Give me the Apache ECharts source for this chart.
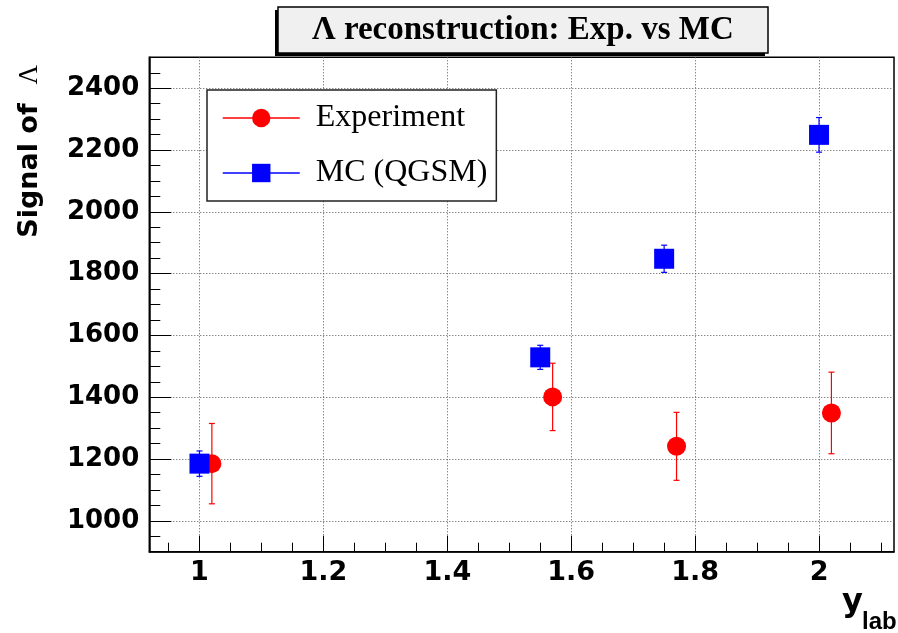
<!DOCTYPE html>
<html>
<head>
<meta charset="utf-8">
<script src="https://cdn.jsdelivr.net/npm/echarts@6/dist/echarts.min.js"></script>
<style>
html,body{margin:0;padding:0;background:#fff;}
#chart{width:898px;height:633px;}
</style>
</head>
<body>
<div id="chart"></div>
<script>
// ---- data ----
const expX = [1.02, 1.57, 1.77, 2.02];
const expY = [1185, 1401, 1241, 1349];
const expErr = [130, 109, 110, 132];

const mcX = [1.0, 1.55, 1.75, 2.0];
const mcY = [1185, 1529, 1848, 2249];
const mcErr = [41, 39, 44, 56];

const xMajorTicks = [1, 1.2, 1.4, 1.6, 1.8, 2];
const xMinorTicks = [0.95, 1.05, 1.1, 1.15, 1.25, 1.3, 1.35, 1.45, 1.5, 1.55, 1.65, 1.7, 1.75, 1.85, 1.9, 1.95, 2.05, 2.1];
const yMajorTicks = [1000, 1200, 1400, 1600, 1800, 2000, 2200, 2400];
const yMinorTicks = [950, 1050, 1100, 1150, 1250, 1300, 1350, 1450, 1500, 1550, 1650, 1700, 1750, 1850, 1900, 1950, 2050, 2100, 2150, 2250, 2300, 2350, 2450];

const titleText = 'Λ reconstruction: Exp. vs MC';
const seriesNames = ['Experiment', 'MC (QGSM)'];

// ---- build ----
function pts(xs, ys) { return xs.map((x, i) => [x, ys[i]]); }
function errs(xs, ys, es) { return xs.map((x, i) => [x, ys[i] - es[i], ys[i] + es[i]]); }

function errRender(color) {
  return function (params, api) {
    const x = api.value(0);
    const lo = api.coord([x, api.value(1)]);
    const hi = api.coord([x, api.value(2)]);
    const cw = 3;
    const st = { stroke: color, lineWidth: 1.2 };
    return {
      type: 'group',
      children: [
        { type: 'line', shape: { x1: lo[0], y1: lo[1], x2: hi[0], y2: hi[1] }, style: st },
        { type: 'line', shape: { x1: hi[0] - cw, y1: hi[1], x2: hi[0] + cw, y2: hi[1] }, style: st },
        { type: 'line', shape: { x1: lo[0] - cw, y1: lo[1], x2: lo[0] + cw, y2: lo[1] }, style: st }
      ]
    };
  };
}

const chart = echarts.init(document.getElementById('chart'), null, { renderer: 'canvas' });

const tickFont = '"DejaVu Sans", sans-serif';
const plainNum = v => String(v);

const option = {
  animation: false,
  backgroundColor: '#fff',
  title: {
    text: titleText,
    left: 278,
    top: 7,
    padding: [6, 34, 6, 34],
    backgroundColor: '#f0f0f0',
    borderColor: '#000',
    borderWidth: 1.5,
    textStyle: {
      fontFamily: '"Liberation Serif", serif',
      fontWeight: 'bold',
      fontSize: 33,
      lineHeight: 34,
      color: '#000'
    }
  },
  grid: {
    left: 149.3,
    right: 4,
    top: 57.3,
    bottom: 81.3,
    containLabel: false,
    outerBoundsMode: 'none',
    show: true,
    borderColor: '#000',
    borderWidth: 1.5,
    backgroundColor: 'transparent'
  },
  legend: {
    left: 207,
    top: 90,
    orient: 'vertical',
    padding: [12, 9, 12, 15],
    itemWidth: 77,
    itemHeight: 23,
    itemGap: 23,
    backgroundColor: '#fff',
    borderColor: '#222',
    borderWidth: 1.5,
    selectedMode: false,
    textStyle: {
      fontFamily: '"Liberation Serif", serif',
      fontSize: 32,
      lineHeight: 32,
      color: '#000',
      padding: [0, 0, 0, 11]
    },
    data: [
      { name: seriesNames[0], lineStyle: { color: '#ff0000', width: 1.5, opacity: 1 } },
      { name: seriesNames[1], lineStyle: { color: '#0000ff', width: 1.5, opacity: 1 } }
    ]
  },
  xAxis: [
    {
      type: 'value',
      min: 0.919,
      max: 2.121,
      position: 'bottom',
      axisLine: { show: true, lineStyle: { color: '#000', width: 1.5 } },
      axisTick: { show: true, inside: true, length: 16, customValues: xMajorTicks, lineStyle: { color: '#000', width: 1 } },
      axisLabel: {
        show: true, customValues: xMajorTicks, margin: 8, formatter: plainNum,
        fontFamily: tickFont, fontWeight: 'bold', fontSize: 27, color: '#000'
      },
      splitLine: { show: true, lineStyle: { color: '#555', width: 1, type: [1, 2] } }
    },
    {
      type: 'value',
      min: 0.919,
      max: 2.121,
      position: 'bottom',
      axisLine: { show: false },
      axisTick: { show: true, inside: true, length: 9, customValues: xMinorTicks, lineStyle: { color: '#000', width: 1 } },
      axisLabel: { show: false },
      splitLine: { show: false }
    }
  ],
  yAxis: [
    {
      type: 'value',
      min: 900,
      max: 2500,
      position: 'left',
      axisLine: { show: true, lineStyle: { color: '#000', width: 1.5 } },
      axisTick: { show: true, inside: true, length: 22, customValues: yMajorTicks, lineStyle: { color: '#000', width: 1 } },
      axisLabel: {
        show: true, customValues: yMajorTicks, margin: 10, formatter: plainNum,
        fontFamily: tickFont, fontWeight: 'bold', fontSize: 26, color: '#000'
      },
      splitLine: { show: true, lineStyle: { color: '#555', width: 1, type: [1, 2] } }
    },
    {
      type: 'value',
      min: 900,
      max: 2500,
      position: 'left',
      axisLine: { show: false },
      axisTick: { show: true, inside: true, length: 11, customValues: yMinorTicks, lineStyle: { color: '#000', width: 1 } },
      axisLabel: { show: false },
      splitLine: { show: false }
    }
  ],
  graphic: [
    {
      type: 'rect',
      z: -1,
      shape: { x: 275, y: 10, width: 490, height: 46 },
      style: { fill: '#000' },
      silent: true
    },
    {
      type: 'text',
      x: 30,
      y: 65,
      rotation: Math.PI / 2,
      style: {
        text: '{b|Signal of  }{l|Λ}',
        align: 'right',
        verticalAlign: 'middle',
        rich: {
          b: { fontFamily: tickFont, fontWeight: 'bold', fontSize: 27, fill: '#000', color: '#000' },
          l: { fontFamily: '"Liberation Serif", serif', fontWeight: 'normal', fontSize: 27, fill: '#000', color: '#000' }
        },
        fill: '#000'
      }
    },
    {
      type: 'text',
      x: 842,
      y: 603,
      style: { text: 'y', font: 'bold 32px "DejaVu Sans", sans-serif', fill: '#000', align: 'left', verticalAlign: 'middle' }
    },
    {
      type: 'text',
      x: 862,
      y: 622,
      style: { text: 'lab', font: 'bold 24px "Liberation Sans", sans-serif', fill: '#000', align: 'left', verticalAlign: 'middle' }
    }
  ],
  series: [
    {
      name: seriesNames[0] + ' errors',
      type: 'custom',
      xAxisIndex: 0, yAxisIndex: 0,
      renderItem: errRender('#ff0000'),
      encode: { x: 0, y: [1, 2] },
      data: errs(expX, expY, expErr),
      silent: true, z: 2
    },
    {
      name: seriesNames[0],
      type: 'line',
      xAxisIndex: 0, yAxisIndex: 0,
      data: pts(expX, expY),
      symbol: 'circle',
      symbolSize: 19,
      showSymbol: true,
      lineStyle: { opacity: 0, width: 1.5, color: '#ff0000' },
      itemStyle: { color: '#ff0000' },
      silent: true, z: 3
    },
    {
      name: seriesNames[1] + ' errors',
      type: 'custom',
      xAxisIndex: 0, yAxisIndex: 0,
      renderItem: errRender('#0000ff'),
      encode: { x: 0, y: [1, 2] },
      data: errs(mcX, mcY, mcErr),
      silent: true, z: 4
    },
    {
      name: seriesNames[1],
      type: 'line',
      xAxisIndex: 0, yAxisIndex: 0,
      data: pts(mcX, mcY),
      symbol: 'rect',
      symbolSize: 20,
      showSymbol: true,
      lineStyle: { opacity: 0, width: 1.5, color: '#0000ff' },
      itemStyle: { color: '#0000ff' },
      silent: true, z: 5
    }
  ]
};

chart.setOption(option);
</script>
</body>
</html>
